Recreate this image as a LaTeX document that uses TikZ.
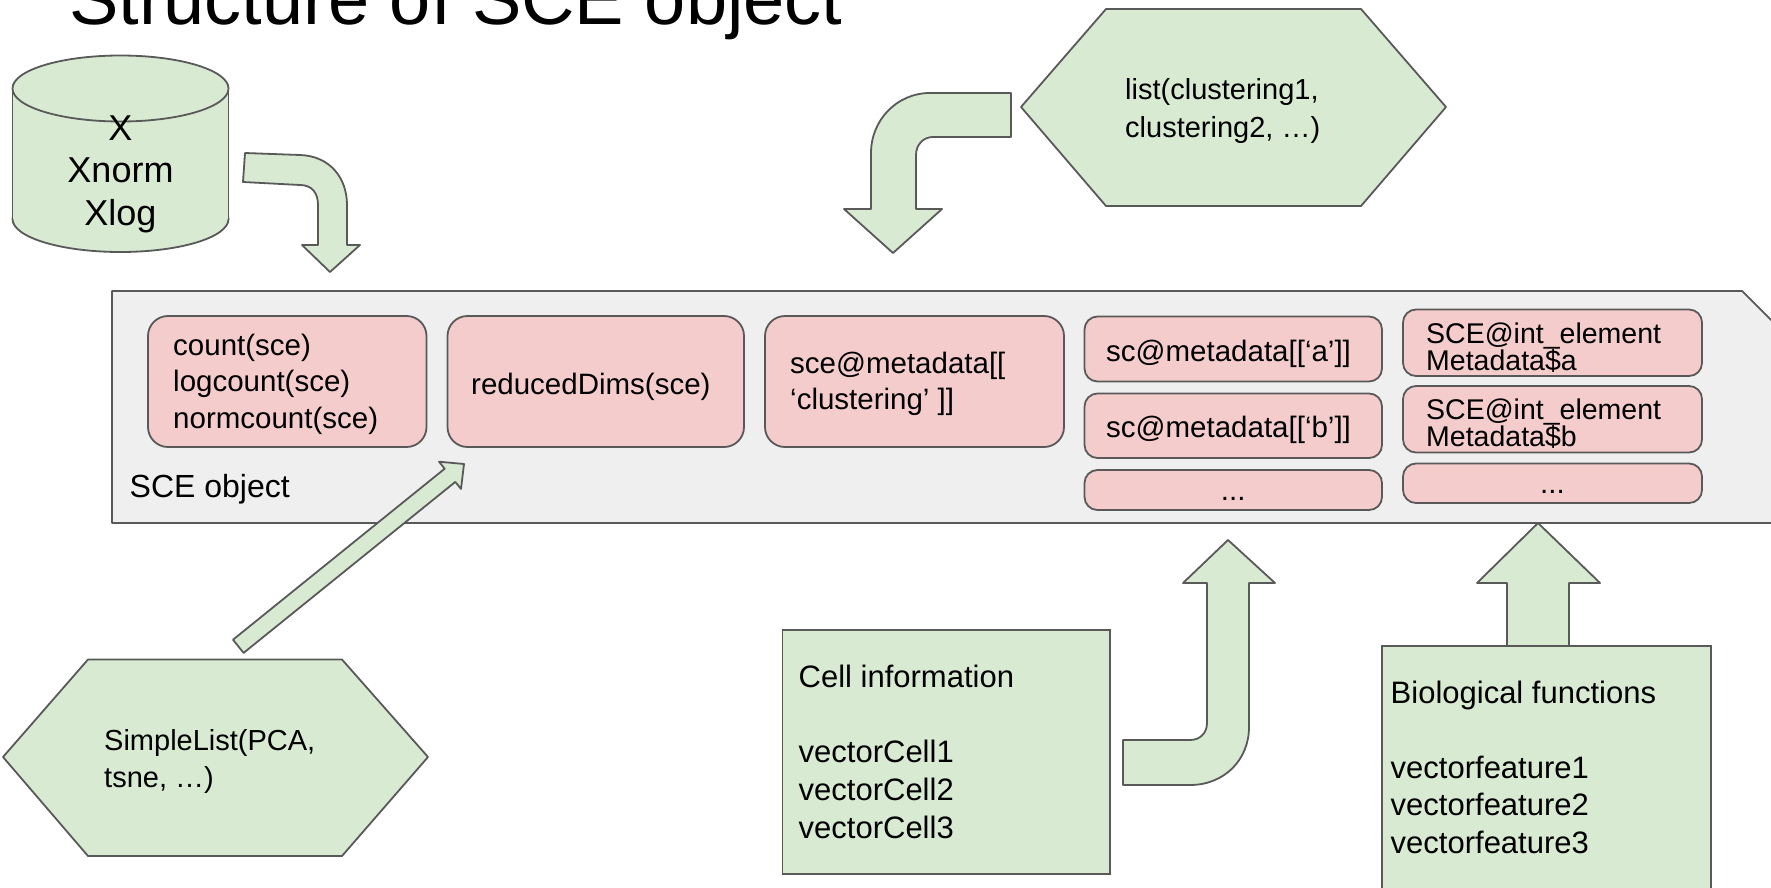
\documentclass[tikz,border=0pt]{standalone}
\usepackage{fontspec}
\setmainfont{Liberation Sans}
\definecolor{grn}{HTML}{D9EAD3}
\definecolor{pnk}{HTML}{F4CCCC}
\definecolor{gry}{HTML}{EFEFEF}
\definecolor{edgec}{HTML}{595959}
\tikzset{
  greenshape/.style={fill=grn, draw=edgec, line width=1.8pt, line join=round},
  pinkbig/.style={draw=edgec, fill=pnk, line width=1.8pt, rounded corners=20pt, inner sep=0pt},
  pinksmall/.style={draw=edgec, fill=pnk, line width=1.8pt, rounded corners=13pt, inner sep=0pt},
  greenbox/.style={draw=edgec, fill=grn, line width=1.8pt, inner sep=0pt},
  txt/.style={inner sep=0pt, anchor=base west, align=left, font=\fontsize{29.5}{36.5}\selectfont},
}
\begin{document}
\begin{tikzpicture}[x=1pt, y=-1pt]
\useasboundingbox (0,0) rectangle (1771,888);
\clip (0,0) rectangle (1771,888);
\fill[white] (0,0) rectangle (1771,888);

% title
\node[txt, font=\fontsize{74}{80}\selectfont] (title) at (69,25) {Structure of SCE object};

% SCE container
\draw[fill=gry, draw=edgec, line width=1.8pt, line join=round]
  (112,291) -- (1742,291) -- (1820,369) -- (1820,523) -- (112,523) -- cycle;
\node[txt, font=\fontsize{32}{38}\selectfont] (sceobj) at (129.5,497) {SCE object};

% pink boxes (multi-line texts are placed by their last baseline)
\node[pinkbig, minimum width=278.5pt, minimum height=131pt] (cnt) at (287.25,381.5) {};
\node[txt] (cnttxt) at (173,428) {count(sce)\\logcount(sce)\\normcount(sce)};
\node[pinkbig, minimum width=296.5pt, minimum height=131pt] (red) at (595.75,381.5) {};
\node[txt] (redtxt) at (471,394) {reducedDims(sce)};
\node[pinkbig, minimum width=299pt, minimum height=131pt] (meta) at (914.5,381.5) {};
\node[txt, font=\fontsize{29.5}{36}\selectfont] (metatxt) at (790,409) {sce@metadata[[\\‘clustering’ ]]};

\node[pinksmall, minimum width=297.5pt, minimum height=65pt] (sca) at (1233.25,349) {};
\node[txt] (scatxt) at (1106,361) {sc@metadata[[‘a’]]};
\node[pinksmall, minimum width=297.5pt, minimum height=64.5pt] (scb) at (1233.25,425.75) {};
\node[txt] (scbtxt) at (1106,437) {sc@metadata[[‘b’]]};
\node[pinksmall, minimum width=297.5pt, minimum height=40pt] (scd) at (1233.25,490) {};
\node[txt, anchor=base] (scdtxt) at (1233.25,500) {...};

\node[pinksmall, minimum width=299pt, minimum height=66.5pt] (ia) at (1552.5,342.75) {};
\node[txt, font=\fontsize{28.5}{27}\selectfont] (iatxt) at (1426,370) {SCE@int\_element\\Metadata\$a};
\node[pinksmall, minimum width=299pt, minimum height=66.5pt] (ib) at (1552.5,419.25) {};
\node[txt, font=\fontsize{28.5}{27}\selectfont] (ibtxt) at (1426,446.5) {SCE@int\_element\\Metadata\$b};
\node[pinksmall, minimum width=299pt, minimum height=39.5pt] (id) at (1552.5,483.25) {};
\node[txt, anchor=base] (idtxt) at (1552.5,493) {...};

% cylinder
\draw[greenshape] (120.5,219) ellipse [x radius=108pt, y radius=33pt];
\fill[grn] (12.5,88.5) rectangle (228.5,219);
\draw[edgec, line width=1.8pt] (12.5,88.5) -- (12.5,219) (228.5,88.5) -- (228.5,219);
\draw[greenshape] (120.5,88.5) ellipse [x radius=108pt, y radius=33pt];
\node[txt, anchor=base, align=center, font=\fontsize{36}{42.5}\selectfont] (cyl) at (120.5,225) {X\\Xnorm\\Xlog};

% bent arrow: cylinder -> SCE
\draw[greenshape] (245,153) -- (300,155) .. controls (330,156) and (347,178) .. (347,205)
  -- (347,245) -- (360,245) -- (330,272) -- (302,245) -- (318,245) -- (318,205)
  .. controls (318,193) and (312,185) .. (300,185) -- (243,182) -- cycle;

% hexagon list(...)
\draw[greenshape] (1021,107) -- (1106,9) -- (1361,9) -- (1446,107) -- (1361,206) -- (1106,206) -- cycle;
\node[txt, font=\fontsize{29}{38}\selectfont] (listtxt) at (1125,138) {list(clustering1,\\clustering2, …)};

% bent arrow: list -> SCE
\draw[greenshape] (1011,93) -- (930,93) .. controls (897,93) and (871,120) .. (871,153)
  -- (871,209) -- (844,209) -- (893,253) -- (942,209) -- (916,209) -- (916,155)
  .. controls (916,145) and (923,137) .. (933,137) -- (1011,137) -- cycle;

% hexagon SimpleList
\draw[greenshape] (3,757) -- (88,659.5) -- (342,659.5) -- (428,757) -- (342,856) -- (88,856) -- cycle;
\node[txt, font=\fontsize{29}{37}\selectfont] (sltxt) at (104,787) {SimpleList(PCA,\\tsne, …)};

% diagonal arrow SimpleList -> reducedDims
\draw[greenshape] (243.6,652.9) -- (455.3,481.9) -- (461.0,488.9) -- (464,464)
  -- (439.0,461.7) -- (444.7,468.7) -- (233.0,639.7) -- cycle;

% Cell information
\node[greenbox, minimum width=327.5pt, minimum height=244pt] (cell) at (946.25,752) {};
\node[txt, font=\fontsize{31}{37.7}\selectfont] (celltxt) at (798.5,838) {Cell information\\ \\vectorCell1\\vectorCell2\\vectorCell3};

% bent arrow: cell -> SCE
\draw[greenshape] (1123,740) -- (1190,740) .. controls (1200,740) and (1207,733) .. (1207,723)
  -- (1207,583) -- (1183,583) -- (1228,540) -- (1275,583) -- (1249,583) -- (1249,727)
  .. controls (1249,760) and (1224,785) .. (1190,785) -- (1123,785) -- cycle;

% up arrow: bio -> SCE
\draw[greenshape] (1507,646) -- (1507,583) -- (1477,583) -- (1538,523) -- (1600,583) -- (1569,583) -- (1569,646) -- cycle;

% Biological functions
\node[greenbox, minimum width=329pt, minimum height=280pt] (bio) at (1546.5,786) {};
\node[txt, font=\fontsize{31}{37.5}\selectfont] (biotxt) at (1390.5,853) {Biological functions\\ \\vectorfeature1\\vectorfeature2\\vectorfeature3};
\end{tikzpicture}
\end{document}
